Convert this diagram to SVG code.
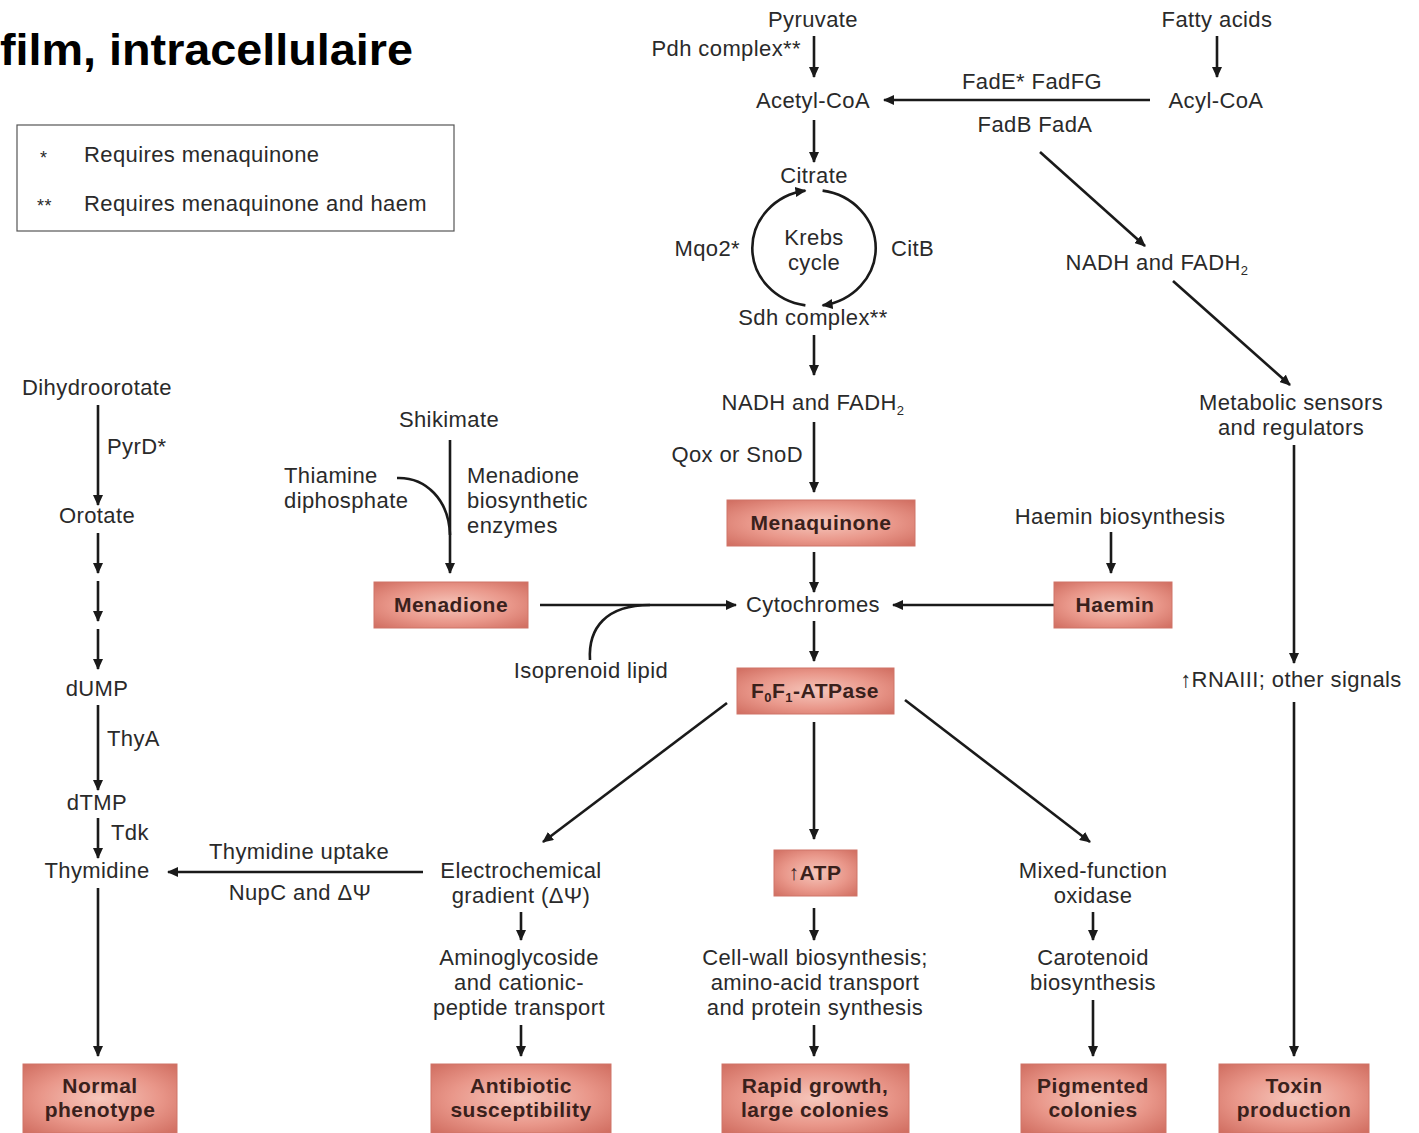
<svg xmlns="http://www.w3.org/2000/svg" width="1419" height="1133" viewBox="0 0 1419 1133">
<defs>
<radialGradient id="boxg" cx="50%" cy="50%" r="70%">
<stop offset="0" stop-color="#f6c6bb"/>
<stop offset="0.55" stop-color="#e9978a"/>
<stop offset="1" stop-color="#d06d60"/>
</radialGradient>
<marker id="ah" markerUnits="userSpaceOnUse" markerWidth="12" markerHeight="10" refX="10" refY="5" orient="auto">
<path d="M0,0 L11,5 L0,10 z" fill="#1a1a1a"/>
</marker>
</defs>
<style>
text{font-family:"Liberation Sans",Arial,sans-serif;font-size:22px;letter-spacing:0.4px;fill:#2a2a2a}
.c{text-anchor:middle}
.e{text-anchor:end}
.b{font-weight:bold;fill:#3a211c;text-anchor:middle;font-size:21px;letter-spacing:0.5px}
.box{fill:url(#boxg);stroke:#cf7468;stroke-width:1}
.ln{stroke:#1a1a1a;stroke-width:2.6;fill:none}
.ar{stroke:#1a1a1a;stroke-width:2.6;fill:none;marker-end:url(#ah)}
.sub{font-size:13px}
</style>
<rect width="1419" height="1133" fill="#ffffff"/>

<text x="0" y="65" textLength="413" lengthAdjust="spacingAndGlyphs" style="font-family:'Liberation Sans',sans-serif;font-weight:bold;font-size:44px;letter-spacing:0;fill:#000">film, intracellulaire</text>

<g id="legend">
<rect x="17" y="125" width="437" height="106" fill="#fff" stroke="#555" stroke-width="1.2"/>
<text x="40" y="164" style="font-size:18px">*</text>
<text x="84" y="162">Requires menaquinone</text>
<text x="37" y="212" style="font-size:18px">**</text>
<text x="84" y="211">Requires menaquinone and haem</text>
</g>

<g id="connectors">
<line class="ar" x1="814" y1="36" x2="814" y2="77"/>
<line class="ar" x1="1217" y1="36" x2="1217" y2="77"/>
<line class="ar" x1="1150" y1="100" x2="884" y2="100"/>
<line class="ar" x1="814" y1="120" x2="814" y2="162"/>
<path class="ar" d="M805.4,305.4 A62,58 0 0 1 805.4,190.6"/>
<path class="ar" d="M822.6,190.6 A62,58 0 0 1 822.6,305.4"/>
<line class="ar" x1="814" y1="335" x2="814" y2="375"/>
<line class="ar" x1="814" y1="422" x2="814" y2="492"/>
<line class="ar" x1="814" y1="552" x2="814" y2="592"/>
<line class="ar" x1="814" y1="621" x2="814" y2="661"/>
<line class="ar" x1="540" y1="605" x2="736" y2="605"/>
<path class="ln" d="M590,660 C588,628 606,605 650,605"/>
<line class="ar" x1="450" y1="440" x2="450" y2="573"/>
<path class="ln" d="M397,478 C426,477 449,500 450,535"/>
<line class="ar" x1="1111" y1="532" x2="1111" y2="573"/>
<line class="ar" x1="1065" y1="605" x2="893" y2="605"/>
<line class="ar" x1="727" y1="703" x2="543" y2="842"/>
<line class="ar" x1="814" y1="722" x2="814" y2="839"/>
<line class="ar" x1="905" y1="700" x2="1090" y2="842"/>
<line class="ar" x1="814" y1="908" x2="814" y2="940"/>
<line class="ar" x1="814" y1="1025" x2="814" y2="1056"/>
<line class="ar" x1="423" y1="872" x2="168" y2="872"/>
<line class="ar" x1="521" y1="912" x2="521" y2="940"/>
<line class="ar" x1="521" y1="1025" x2="521" y2="1056"/>
<line class="ar" x1="1093" y1="912" x2="1093" y2="940"/>
<line class="ar" x1="1093" y1="1000" x2="1093" y2="1056"/>
<line class="ar" x1="1040" y1="152" x2="1145" y2="246"/>
<line class="ar" x1="1173" y1="281" x2="1290" y2="385"/>
<line class="ar" x1="1294" y1="445" x2="1294" y2="663"/>
<line class="ar" x1="1294" y1="702" x2="1294" y2="1056"/>
<line class="ar" x1="98" y1="405" x2="98" y2="505"/>
<line class="ar" x1="98" y1="533" x2="98" y2="573"/>
<line class="ar" x1="98" y1="581" x2="98" y2="621"/>
<line class="ar" x1="98" y1="629" x2="98" y2="669"/>
<line class="ar" x1="98" y1="705" x2="98" y2="790"/>
<line class="ar" x1="98" y1="818" x2="98" y2="858"/>
<line class="ar" x1="98" y1="888" x2="98" y2="1056"/>
</g>

<g id="labels">
<text x="1032" y="89" class="c">FadE* FadFG</text>
<text x="1035" y="132" class="c">FadB FadA</text>
<text x="740" y="256" class="e">Mqo2*</text>
<text x="891" y="256">CitB</text>
<text x="803" y="462" class="e">Qox or SnoD</text>
<text x="801" y="56" class="e">Pdh complex**</text>
<text x="107" y="454">PyrD*</text>
<text x="107" y="746">ThyA</text>
<text x="111" y="840">Tdk</text>
<text x="299" y="859" class="c">Thymidine uptake</text>
<text x="300" y="900" class="c">NupC and ΔΨ</text>
<text x="467" y="483">Menadione</text>
<text x="467" y="508">biosynthetic</text>
<text x="467" y="533">enzymes</text>
</g>

<g id="pyruvate"><text x="813" y="27" class="c">Pyruvate</text></g>
<g id="fatty-acids"><text x="1217" y="27" class="c">Fatty acids</text></g>
<g id="acetyl-coa"><text x="813" y="108" class="c">Acetyl-CoA</text></g>
<g id="acyl-coa"><text x="1216" y="108" class="c">Acyl-CoA</text></g>
<g id="citrate"><text x="814" y="183" class="c">Citrate</text></g>
<g id="krebs"><text x="814" y="245" class="c">Krebs</text><text x="814" y="270" class="c">cycle</text></g>
<g id="sdh"><text x="813" y="325" class="c">Sdh complex**</text></g>
<g id="nadh1"><text x="813" y="410" class="c">NADH and FADH<tspan class="sub" dy="5">2</tspan></text></g>
<g id="nadh2"><text x="1157" y="270" class="c">NADH and FADH<tspan class="sub" dy="5">2</tspan></text></g>
<g id="metabolic"><text x="1291" y="410" class="c">Metabolic sensors</text><text x="1291" y="435" class="c">and regulators</text></g>
<g id="rnaiii"><text x="1291" y="687" class="c">↑RNAIII; other signals</text></g>

<g id="menaquinone"><rect class="box" x="727" y="500" width="188" height="46"/><text x="821" y="530" class="b">Menaquinone</text></g>
<g id="cytochromes"><text x="813" y="612" class="c">Cytochromes</text></g>
<g id="shikimate"><text x="449" y="427" class="c">Shikimate</text></g>
<g id="thiamine"><text x="284" y="483">Thiamine</text><text x="284" y="508">diphosphate</text></g>
<g id="menadione"><rect class="box" x="374" y="582" width="154" height="46"/><text x="451" y="612" class="b">Menadione</text></g>
<g id="isoprenoid"><text x="591" y="678" class="c">Isoprenoid lipid</text></g>
<g id="haemin-bio"><text x="1120" y="524" class="c">Haemin biosynthesis</text></g>
<g id="haemin"><rect class="box" x="1054" y="582" width="118" height="46"/><text x="1115" y="612" class="b">Haemin</text></g>
<g id="atpase"><rect class="box" x="737" y="668" width="157" height="46"/><text x="815" y="698" class="b">F<tspan class="sub" dy="4">0</tspan><tspan dy="-4">F</tspan><tspan class="sub" dy="4">1</tspan><tspan dy="-4">-ATPase</tspan></text></g>
<g id="atp"><rect class="box" x="774" y="850" width="83" height="46"/><text x="815" y="880" class="b">↑ATP</text></g>
<g id="cellwall"><text x="815" y="965" class="c">Cell-wall biosynthesis;</text><text x="815" y="990" class="c">amino-acid transport</text><text x="815" y="1015" class="c">and protein synthesis</text></g>
<g id="rapid"><rect class="box" x="722" y="1064" width="187" height="69"/><text x="815" y="1093" class="b">Rapid growth,</text><text x="815" y="1117" class="b">large colonies</text></g>
<g id="electro"><text x="521" y="878" class="c">Electrochemical</text><text x="521" y="903" class="c">gradient (ΔΨ)</text></g>
<g id="amino"><text x="519" y="965" class="c">Aminoglycoside</text><text x="519" y="990" class="c">and cationic-</text><text x="519" y="1015" class="c">peptide transport</text></g>
<g id="antibiotic"><rect class="box" x="431" y="1064" width="180" height="69"/><text x="521" y="1093" class="b">Antibiotic</text><text x="521" y="1117" class="b">susceptibility</text></g>
<g id="mixed"><text x="1093" y="878" class="c">Mixed-function</text><text x="1093" y="903" class="c">oxidase</text></g>
<g id="carotenoid"><text x="1093" y="965" class="c">Carotenoid</text><text x="1093" y="990" class="c">biosynthesis</text></g>
<g id="pigmented"><rect class="box" x="1021" y="1064" width="145" height="69"/><text x="1093" y="1093" class="b">Pigmented</text><text x="1093" y="1117" class="b">colonies</text></g>
<g id="toxin"><rect class="box" x="1219" y="1064" width="150" height="69"/><text x="1294" y="1093" class="b">Toxin</text><text x="1294" y="1117" class="b">production</text></g>
<g id="dihydroorotate"><text x="97" y="395" class="c">Dihydroorotate</text></g>
<g id="orotate"><text x="97" y="523" class="c">Orotate</text></g>
<g id="dump"><text x="97" y="696" class="c">dUMP</text></g>
<g id="dtmp"><text x="97" y="810" class="c">dTMP</text></g>
<g id="thymidine"><text x="97" y="878" class="c">Thymidine</text></g>
<g id="normal"><rect class="box" x="23" y="1064" width="154" height="69"/><text x="100" y="1093" class="b">Normal</text><text x="100" y="1117" class="b">phenotype</text></g>
</svg>
